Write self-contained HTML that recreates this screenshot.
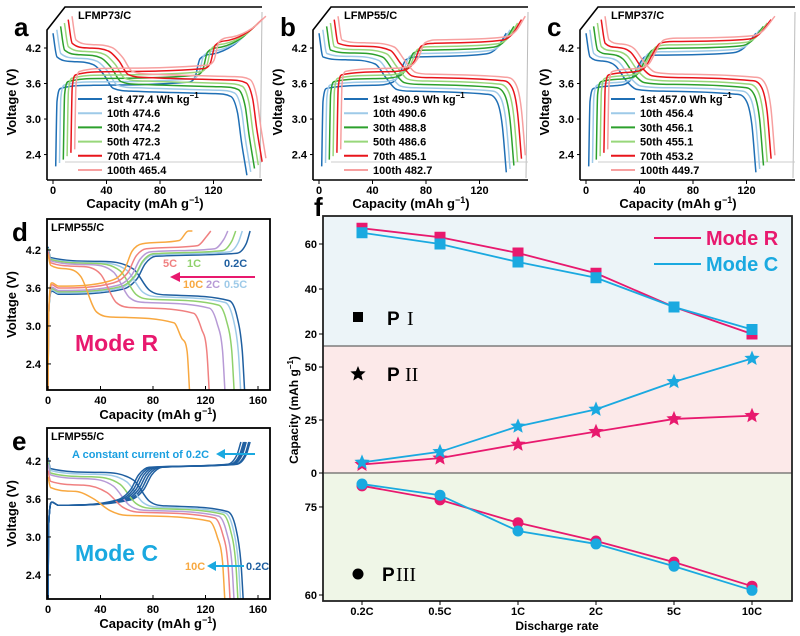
<!DOCTYPE html>
<html><head><meta charset="utf-8"><style>
body{margin:0;background:#fff}
svg{display:block;font-family:"Liberation Sans",Arial,sans-serif;font-weight:bold}
</style></head><body>
<svg id="fig" width="800" height="636" viewBox="0 0 800 636" xmlns="http://www.w3.org/2000/svg"></svg>
<script>
// ---------- data ----------
const cycleLabels=['1st','10th','30th','50th','70th','100th'];
const cycleColors=['#1f6fb5','#9ecae8','#2ca02c','#98d77a','#e8151b','#f7a0a0'];
const energyA=['477.4','474.6','474.2','472.3','471.4','465.4'];
const energyB=['490.9','490.6','488.8','486.6','485.1','482.7'];
const energyC=['457.0','456.4','456.1','455.1','453.2','449.7'];
const disA=[[0,4.45],[3,4.05],[15,3.97],[30,3.92],[38,3.75],[45,3.52],[60,3.47],[120,3.43],[133,3.38],[138,3.1],[141,2.6],[145,2.05]];
const chgA=[[2,2.2],[3,3.3],[6,3.52],[30,3.57],[100,3.62],[106,3.7],[110,4.02],[120,4.1],[135,4.25],[145,4.45]];
const disB=[[0,4.45],[3,4.05],[20,4.0],[42,3.93],[50,3.7],[58,3.5],[70,3.47],[125,3.42],[133,3.3],[137,2.9],[140,2.1]];
const chgB=[[2,2.2],[3,3.3],[6,3.52],[40,3.57],[55,3.62],[60,3.75],[65,4.0],[75,4.05],[125,4.1],[133,4.2],[140,4.45]];
const disC=[[0,4.45],[3,4.05],[12,3.98],[22,3.9],[30,3.65],[38,3.5],[60,3.47],[112,3.42],[120,3.3],[124,2.9],[127,2.1]];
const chgC=[[2,2.2],[3,3.3],[6,3.52],[25,3.57],[33,3.65],[38,3.85],[44,4.05],[55,4.08],[110,4.12],[118,4.2],[127,4.45]];

const rates=['0.2C','0.5C','1C','2C','5C','10C'];
const rateColors=['#1f5fa0','#9ecae8','#8fd16b','#b79ad6','#f08080','#f8a840'];
const disCapR=[150,147,142,135,123,108];
const chgCapR=[154,148,143,137,124,110];
const disMnR=[4.05,4.03,4.02,4.0,3.97,3.93];
const disFeR=[3.45,3.42,3.38,3.33,3.25,3.1];
const disTR=[65,60,55,50,40,25];
const chgFeR=[3.5,3.52,3.54,3.56,3.6,3.63];
const chgMnR=[4.1,4.12,4.14,4.17,4.22,4.3];
const chgTR=[72,70,70,68,65,62];
const disCapC=[149,147,145,142,139,135];
const disMnC=[4.05,4.02,3.98,3.95,3.85,3.75];
const disFeC=[3.45,3.43,3.41,3.38,3.35,3.3];
const disTC=[65,60,55,50,45,35];
const chgCapC=[154,153,151,150,149,147];
const chgTC=[77,75,73,71,69,67];

const fCats=['0.2C','0.5C','1C','2C','5C','10C'];
const p1R=[67,63,56,47,32,20], p1C=[65,60,52,45,32,22];
const p2R=[4,7,13.5,19.5,25.5,27], p2C=[5,10,22,30,43,54];
const p3R=[78.6,76.2,72.3,69.2,65.6,61.5], p3C=[78.9,77.0,70.9,68.7,64.9,60.8];
const p1Ticks=[20,40,60], p2Ticks=[0,25,50], p3Ticks=[60,75];

// ---------- helpers ----------
const NS='http://www.w3.org/2000/svg';
const svg=document.getElementById('fig');
function el(tag,attrs,parent){const e=document.createElementNS(NS,tag);for(const k in attrs)e.setAttribute(k,attrs[k]);(parent||svg).appendChild(e);return e;}
function txt(s,x,y,size,fill,anchor,parent,extra){const t=el('text',Object.assign({x:x,y:y,'font-size':size,fill:fill||'#000','text-anchor':anchor||'start'},extra||{}),parent);t.textContent=s;return t;}
function smooth(p){
 const n=p.length;if(n<2)return '';
 const dx=[],m=[],t=[];
 for(let i=0;i<n-1;i++){dx[i]=Math.max(p[i+1][0]-p[i][0],1e-3);m[i]=(p[i+1][1]-p[i][1])/dx[i];}
 t[0]=m[0];t[n-1]=m[n-2];
 for(let i=1;i<n-1;i++){t[i]=(m[i-1]*m[i]<=0)?0:(m[i-1]+m[i])/2;}
 for(let i=0;i<n-1;i++){if(m[i]===0){t[i]=0;t[i+1]=0;continue;}const a=t[i]/m[i],b=t[i+1]/m[i],s=a*a+b*b;if(s>9){const k=3/Math.sqrt(s);t[i]=k*a*m[i];t[i+1]=k*b*m[i];}}
 let d='M'+p[0][0].toFixed(1)+','+p[0][1].toFixed(1);
 for(let i=0;i<n-1;i++){const h=dx[i]/3;
  d+='C'+(p[i][0]+h).toFixed(1)+','+(p[i][1]+t[i]*h).toFixed(1)+' '+(p[i+1][0]-h).toFixed(1)+','+(p[i+1][1]-t[i+1]*h).toFixed(1)+' '+p[i+1][0].toFixed(1)+','+p[i+1][1].toFixed(1);}
 return d;}

// ---------- panels a,b,c ----------
const abc=[{ox:0,L:'a',t:'LFMP73/C',d:disA,c:chgA,e:energyA},{ox:266,L:'b',t:'LFMP55/C',d:disB,c:chgB,e:energyB},{ox:533,L:'c',t:'LFMP37/C',d:disC,c:chgC,e:energyC}];
abc.forEach(P=>{
 const g=el('g',{});
 
 
 const o=P.ox;
 const X=v=>o+53+v*1.3375, Y=v=>48-(v-4.2)*59.2;
 el('line',{x1:o+260,y1:178,x2:o+262,y2:12,stroke:'#bbb','stroke-width':1},g);
 el('line',{x1:o+65,y1:162,x2:o+262,y2:162,stroke:'#ccc','stroke-width':1},g);
 el('path',{d:`M${o+47},180 L${o+47},30 L${o+65},7 L${o+262},7`,fill:'none',stroke:'#000','stroke-width':1.6},g);
 el('path',{d:`M${o+47},180 L${o+262},180`,fill:'none',stroke:'#000','stroke-width':1.6},g);
 const clip=el('clipPath',{id:'clip'+P.L},g);el('rect',{x:o+47,y:5,width:220,height:175},clip);
 const cg=el('g',{'clip-path':`url(#clip${P.L})`},g);
 cycleLabels.forEach((cl,i)=>{
  const dx=i*3.8,dy=-i*3.4;
  [P.c,P.d].forEach((arr,k)=>{
   const p=el('path',{d:smooth(arr.map(q=>[X(q[0])+dx,Y(q[1])+dy])),fill:'none',stroke:cycleColors[i],'stroke-width':1.5},cg);
   
   
  });
 });
 [4.2,3.6,3.0,2.4].forEach(v=>{el('line',{x1:o+44,y1:Y(v),x2:o+47,y2:Y(v),stroke:'#000'},g);txt(v.toFixed(1),o+41,Y(v)+4,11,'#000','end',g);});
 [0,40,80,120].forEach(v=>{el('line',{x1:X(v),y1:180,x2:X(v),y2:184,stroke:'#000'},g);txt(String(v),X(v),194,11,'#000','middle',g);});
 const xl=txt('Capacity (mAh g',o+145,208,13,'#000','middle',g);const ts=el('tspan',{dy:-5,'font-size':9},xl);ts.textContent='−1';const ts2=el('tspan',{dy:5},xl);ts2.textContent=')';
 
 const yl=txt('Voltage (V)',0,0,13,'#000','middle',g,{transform:`translate(${o+16},102) rotate(-90)`});
 
 txt(P.L,o+14,36,26,'#000','start',g);
 txt(P.t,o+78,19,11,'#000','start',g);
 cycleLabels.forEach((cl,i)=>{
  const y=99+i*14.2;
  const lg=el('g',{},g);
  
  
  el('line',{x1:o+78,y1:y,x2:o+102,y2:y,stroke:cycleColors[i],'stroke-width':2},lg);
  const t=txt(cl+' '+P.e[i]+(i===0?' Wh kg':''),o+107,y+4,11,'#000','start',lg);
  if(i===0){const s=el('tspan',{dy:-5,'font-size':8},t);s.textContent='−1';}
 });
});

// ---------- panels d,e ----------
function panelDE(L,top,mode){
 const g=el('g',{});
 
 
 const Y0=top===219?250:461;
 const X=v=>48+v*1.3125, Y=v=>Y0-(v-4.2)*63.3;
 const bottom=top===219?390:599;
 const clip=el('clipPath',{id:'clip'+L},g);el('rect',{x:47,y:top,width:223,height:bottom-top},clip);
 const cg=el('g',{'clip-path':`url(#clip${L})`},g);
 rates.forEach((r,i)=>{
  let Qd,Vmn,Vfe,qT,Qc,cFe,cMn,cT;
  if(mode==='R'){Qd=disCapR[i];Vmn=disMnR[i];Vfe=disFeR[i];qT=disTR[i];Qc=chgCapR[i];cFe=chgFeR[i];cMn=chgMnR[i];cT=chgTR[i];}
  else{Qd=disCapC[i];Vmn=disMnC[i];Vfe=disFeC[i];qT=disTC[i];Qc=chgCapC[i];cFe=3.5;cMn=4.1;cT=chgTC[i];}
  const dis=[[0,Vmn+0.2],[2,Vmn+0.03],[qT*0.6,Vmn-0.03],[qT,Vmn-0.15],[qT+12,Vfe+0.12],[qT+25,Vfe+0.04],[Qd-12,Vfe-0.05],[Qd-6,Vfe-0.3],[Qd-2,2.6],[Qd,1.9]];
  const chg=[[0,1.9],[0.5,3.2],[3,cFe+0.05],[8,cFe],[cT-15,cFe+0.08],[cT-4,cFe+0.25],[cT+2,cMn-0.12],[cT+10,cMn],[Qc-10,cMn+0.05],[Qc-3,cMn+0.2],[Qc,4.5]];
  const chgColor=mode==='R'?rateColors[i]:'#1f5fa0';
  [[chg,chgColor],[dis,rateColors[i]]].forEach((pair,k)=>{
   const p=el('path',{d:smooth(pair[0].map(q=>[X(q[0]),Y(q[1])])),fill:'none',stroke:pair[1],'stroke-width':1.5},cg);
   
   
  });
 });
 el('rect',{x:47,y:top,width:223,height:bottom-top,fill:'none',stroke:'#000','stroke-width':1.8},g);
 [4.2,3.6,3.0,2.4].forEach(v=>{el('line',{x1:47,y1:Y(v),x2:51,y2:Y(v),stroke:'#000'},g);txt(v.toFixed(1),41,Y(v)+4,11,'#000','end',g);});
 [0,40,80,120,160].forEach(v=>{el('line',{x1:X(v),y1:bottom,x2:X(v),y2:bottom-4,stroke:'#000'},g);txt(String(v),X(v),bottom+14,11,'#000','middle',g);});
 const xl=txt('Capacity (mAh g',158,bottom+29,13,'#000','middle',g);const ts=el('tspan',{dy:-5,'font-size':9},xl);ts.textContent='−1';const ts2=el('tspan',{dy:5},xl);ts2.textContent=')';
 
 const yl=txt('Voltage (V)',0,0,13,'#000','middle',g,{transform:`translate(16,${(top+bottom)/2}) rotate(-90)`});
 
 txt(L,12,top+22,26,'#000','start',g);
 txt('LFMP55/C',51,top+12,11,'#000','start',g);
 return g;
}
const gd=panelDE('d',219,'R');
const ge=panelDE('e',428,'C');
[['5C',163,267,4],['1C',187,267,2],['0.2C',224,267,0],['10C',183,288,5],['2C',206,288,3],['0.5C',224,288,1]].forEach(a=>{const t=txt(a[0],a[1],a[2],11,rateColors[a[3]],'start',gd);});
el('line',{x1:255,y1:277,x2:178,y2:277,stroke:'#e8196e','stroke-width':2},gd);
el('path',{d:'M170,277 L180,272 L180,282 Z',fill:'#e8196e'},gd);
const mr=txt('Mode R',75,351,23,'#e8196e','start',gd);
txt('A constant current of 0.2C',72,458,11,'#1a9fe0','start',ge);
el('line',{x1:255,y1:454,x2:224,y2:454,stroke:'#1aa9e0','stroke-width':2},ge);
el('path',{d:'M216,454 L225,449 L225,459 Z',fill:'#1aa9e0'},ge);
txt('10C',185,570,11,'#f8a840','start',ge);
el('line',{x1:244,y1:566,x2:214,y2:566,stroke:'#1aa9e0','stroke-width':2},ge);
el('path',{d:'M207,566 L216,561 L216,571 Z',fill:'#1aa9e0'},ge);
txt('0.2C',246,570,11,'#1f5fa0','start',ge);
const mc=txt('Mode C',75,561,23,'#1aa9e0','start',ge);

// ---------- panel f ----------
const gf=el('g',{});


const FX0=323,FX1=792,FT=216,FS1=346,FS2=473,FB=601;
el('rect',{x:FX0,y:FT,width:FX1-FX0,height:FS1-FT,fill:'#ecf4f8'},gf);
el('rect',{x:FX0,y:FS1,width:FX1-FX0,height:FS2-FS1,fill:'#fce9e9'},gf);
el('rect',{x:FX0,y:FS2,width:FX1-FX0,height:FB-FS2,fill:'#eff6e7'},gf);
el('line',{x1:FX0,y1:FS1,x2:FX1,y2:FS1,stroke:'#666','stroke-width':1.2},gf);
el('line',{x1:FX0,y1:FS2,x2:FX1,y2:FS2,stroke:'#666','stroke-width':1.2},gf);
el('rect',{x:FX0,y:FT,width:FX1-FX0,height:FB-FT,fill:'none',stroke:'#222','stroke-width':1.8},gf);
const fx=i=>362+i*78;
const y1=v=>334-(v-20)*2.25, y2=v=>473-v*2.12, y3=v=>595-(v-60)*5.87;
p1Ticks.forEach(v=>{el('line',{x1:FX0-4,y1:y1(v),x2:FX0,y2:y1(v),stroke:'#000'},gf);txt(String(v),FX0-6,y1(v)+4,11,'#000','end',gf);});
p2Ticks.forEach(v=>{el('line',{x1:FX0-4,y1:y2(v),x2:FX0,y2:y2(v),stroke:'#000'},gf);txt(String(v),FX0-6,y2(v)+4,11,'#000','end',gf);});
p3Ticks.forEach(v=>{el('line',{x1:FX0-4,y1:y3(v),x2:FX0,y2:y3(v),stroke:'#000'},gf);txt(String(v),FX0-6,y3(v)+4,11,'#000','end',gf);});
fCats.forEach((c,i)=>{el('line',{x1:fx(i),y1:FB,x2:fx(i),y2:FB+4,stroke:'#000'},gf);const t=txt(c,fx(i),FB+14,11,'#000','middle',gf);});
const dr=txt('Discharge rate',557,630,12,'#000','middle',gf);
const cy=txt('Capacity (mAh g',0,0,12,'#000','middle',gf,{transform:'translate(298,410) rotate(-90)'});const cs=el('tspan',{dy:-5,'font-size':8},cy);cs.textContent='−1';const cs2=el('tspan',{dy:5},cy);cs2.textContent=')';

txt('f',314,216,26,'#000','start',gf);
function star(cx,cy,r,fill){let d='';for(let k=0;k<10;k++){const a=-Math.PI/2+k*Math.PI/5,rr=k%2?r*0.45:r;d+=(k?'L':'M')+(cx+rr*Math.cos(a)).toFixed(1)+','+(cy+rr*Math.sin(a)).toFixed(1);}return el('path',{d:d+'Z',fill:fill},gf);}
function series(vals,yf,color,shape,name){
 el('polyline',{points:vals.map((v,i)=>fx(i)+','+yf(v)).join(' '),fill:'none',stroke:color,'stroke-width':1.8},gf);
 vals.forEach((v,i)=>{let m;
  if(shape==='sq')m=el('rect',{x:fx(i)-5.5,y:yf(v)-5.5,width:11,height:11,fill:color},gf);
  else if(shape==='st')m=star(fx(i),yf(v),8,color);
  else m=el('circle',{cx:fx(i),cy:yf(v),r:5.5,fill:color},gf);
  
  
 });
}
const CR='#e8196e',CC='#1aa9e0';
series(p1R,y1,CR,'sq','p1-mode-r');series(p1C,y1,CC,'sq','p1-mode-c');
series(p2R,y2,CR,'st','p2-mode-r');series(p2C,y2,CC,'st','p2-mode-c');
series(p3R,y3,CR,'ci','p3-mode-r');series(p3C,y3,CC,'ci','p3-mode-c');
const SER={'font-family':'Liberation Serif, serif','font-weight':'normal'};
el('rect',{x:353,y:312,width:10,height:10,fill:'#000'},gf);
txt('P',387,325,19,'#000','start',gf);txt('I',407,325,20,'#000','start',gf,SER);
star(358,374,8,'#000');
txt('P',387,381,19,'#000','start',gf);txt('II',405,381,20,'#000','start',gf,SER);
el('circle',{cx:358,cy:574,r:5.5,fill:'#000'},gf);
txt('P',382,581,19,'#000','start',gf);txt('III',396,581,20,'#000','start',gf,SER);
const lr=el('g',{},gf);
el('line',{x1:654,y1:238,x2:701,y2:238,stroke:CR,'stroke-width':2},lr);txt('Mode R',706,245,20,CR,'start',lr);
const lc=el('g',{},gf);
el('line',{x1:654,y1:264,x2:701,y2:264,stroke:CC,'stroke-width':2},lc);txt('Mode C',706,271,20,CC,'start',lc);
</script>
</body></html>
